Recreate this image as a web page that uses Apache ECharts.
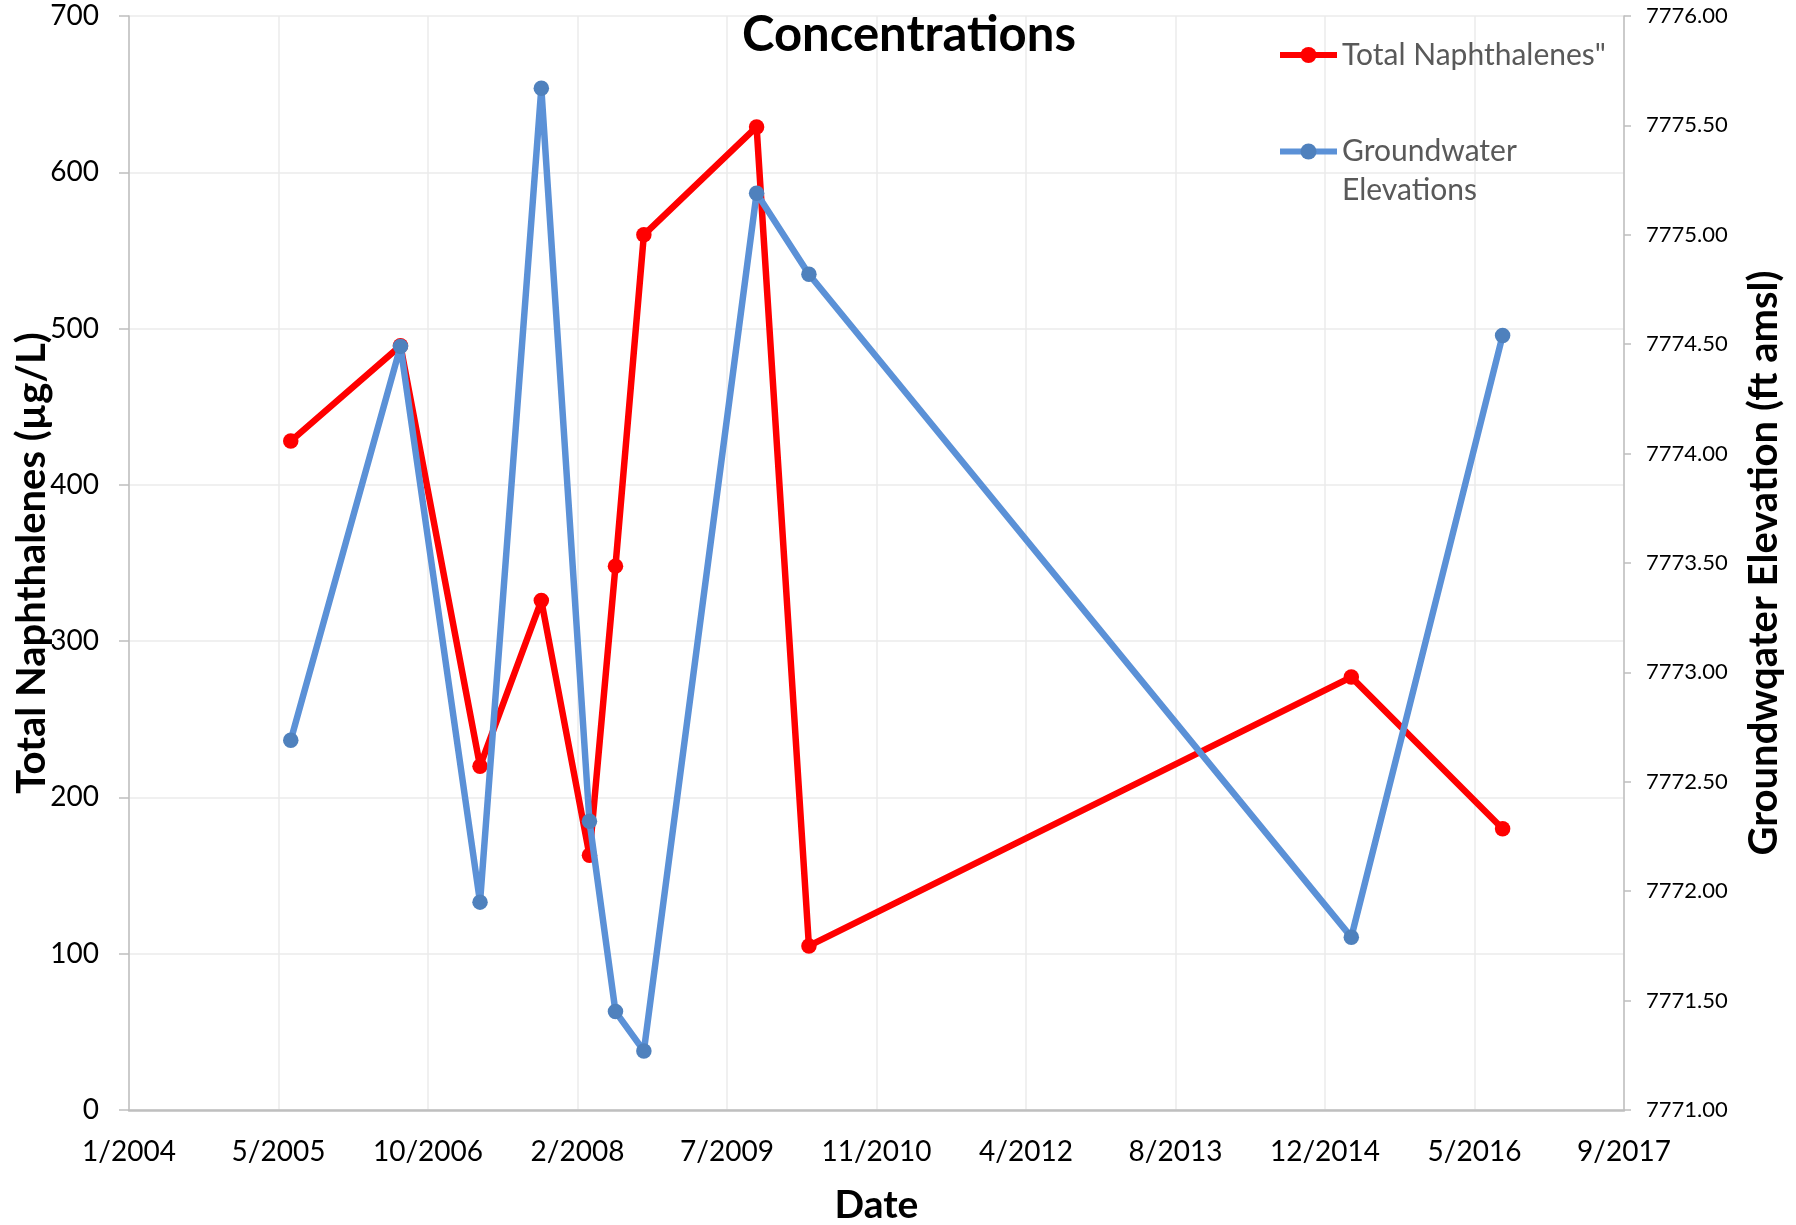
<!DOCTYPE html>
<html>
<head>
<meta charset="utf-8">
<script src="https://cdn.jsdelivr.net/npm/echarts@6/dist/echarts.min.js"></script>
<style>html,body{margin:0;padding:0;background:#fff;}#c{width:1796px;height:1225px;}</style>
</head>
<body>
<div id="c"></div>
<script>
// Sampling dates (shared by both series)
const sampleDates = ['2005-07-08','2006-07-10','2007-04-02','2007-10-24','2008-04-02','2008-06-28','2008-10-01','2009-10-13','2010-04-06','2015-03-25','2016-08-12'];
// Total Naphthalenes (µg/L)
const naphthalenes = [428, 489, 220, 326, 163, 348, 560, 629, 105, 277, 180];
// Groundwater elevations (ft amsl)
const elevations = [7772.69, 7774.49, 7771.95, 7775.67, 7772.32, 7771.45, 7771.27, 7775.19, 7774.82, 7771.79, 7774.54];
// Axis settings (Excel serial days for the date axis)
const xMin = 38000, xMax = 43000, xStep = 500;
const leftMin = 0, leftMax = 700, leftStep = 100;
const rightMin = 7771, rightMax = 7776, rightStep = 0.5;

const EPOCH = Date.UTC(1899, 11, 30);
const DAY = 86400000;
const toSerial = s => (Date.parse(s + 'T00:00:00Z') - EPOCH) / DAY;
const serialLabel = v => { const d = new Date(EPOCH + v * DAY); return (d.getUTCMonth() + 1) + '/' + d.getUTCFullYear(); };

const FONT = 'Lato';
const redData = sampleDates.map((d, i) => [toSerial(d), naphthalenes[i]]);
const blueData = sampleDates.map((d, i) => [toSerial(d), elevations[i]]);

const chart = echarts.init(document.getElementById('c'));
chart.setOption({
  animation: false,
  backgroundColor: '#fff',
  textStyle: { fontFamily: FONT },
  title: {
    text: 'Concentrations',
    left: 904, top: 6, textAlign: 'center',
    textStyle: { fontFamily: FONT, fontWeight: 'bold', fontSize: 49, color: '#000' }
  },
  legend: [
    {
      data: ['Total Naphthalenes"'],
      left: 1277, top: 35.5, padding: 0, itemGap: 0,
      itemWidth: 57, itemHeight: 20,
      lineStyle: { width: 6 },
      textStyle: { fontFamily: FONT, fontSize: 30, color: '#595959', lineHeight: 39 }
    },
    {
      data: ['Groundwater Elevations'],
      left: 1277, top: 93, padding: 0, itemGap: 0,
      itemWidth: 57, itemHeight: 20,
      lineStyle: { width: 6 },
      formatter: () => ' \nGroundwater\nElevations',
      textStyle: { fontFamily: FONT, fontSize: 30, color: '#595959', lineHeight: 39 }
    }
  ],
  grid: { left: 129, right: 172, top: 16, bottom: 115, containLabel: false, outerBoundsMode: 'none' },
  xAxis: {
    type: 'value', min: xMin, max: xMax, interval: xStep,
    name: 'Date', nameLocation: 'middle', nameGap: 76, nameMoveOverlap: false,
    nameTextStyle: { fontFamily: FONT, fontWeight: 'bold', fontSize: 39, color: '#000' },
    axisLine: { show: true, lineStyle: { color: '#BFBFBF', width: 2.5 } },
    axisTick: { show: false },
    axisLabel: { formatter: serialLabel, fontFamily: FONT, fontSize: 28, color: '#000', margin: 28 },
    splitLine: { show: true, lineStyle: { color: '#EBEBEB', width: 1.5 } }
  },
  yAxis: [
    {
      type: 'value', min: leftMin, max: leftMax, interval: leftStep, position: 'left',
      name: 'Total Naphthalenes (µg/L)', nameLocation: 'middle', nameGap: 77, nameRotate: 90, nameMoveOverlap: false,
      nameTextStyle: { fontFamily: FONT, fontWeight: 'bold', fontSize: 40, color: '#000' },
      axisLine: { show: true, lineStyle: { color: '#BFBFBF', width: 1.5 } },
      axisTick: { show: true, length: 10, lineStyle: { color: '#BFBFBF', width: 1.5 } },
      axisLabel: { fontFamily: FONT, fontSize: 28, color: '#000', margin: 30 },
      splitLine: { show: true, lineStyle: { color: '#EBEBEB', width: 1.5 } }
    },
    {
      type: 'value', min: rightMin, max: rightMax, interval: rightStep, position: 'right',
      name: 'Groundwqater Elevation (ft amsl)', nameLocation: 'middle', nameGap: 120, nameRotate: 90, nameMoveOverlap: false,
      nameTextStyle: { fontFamily: FONT, fontWeight: 'bold', fontSize: 40, color: '#000' },
      axisLine: { show: true, lineStyle: { color: '#BFBFBF', width: 1.5 } },
      axisTick: { show: true, length: 7, lineStyle: { color: '#BFBFBF', width: 1.5 } },
      axisLabel: { formatter: v => v.toFixed(2), fontFamily: FONT, fontSize: 22, color: '#000', margin: 22 },
      splitLine: { show: false }
    }
  ],
  series: [
    {
      name: 'Total Naphthalenes"', type: 'line', yAxisIndex: 0, data: redData,
      symbol: 'circle', symbolSize: 15.5, showAllSymbol: true,
      lineStyle: { color: '#FF0000', width: 6.5 },
      itemStyle: { color: '#FF0000' }, z: 2
    },
    {
      name: 'Groundwater Elevations', type: 'line', yAxisIndex: 1, data: blueData,
      symbol: 'circle', symbolSize: 15.5, showAllSymbol: true,
      lineStyle: { color: '#5B91D7', width: 6.5 },
      itemStyle: { color: '#4F81BD' }, z: 3
    }
  ]
});
</script>
</body>
</html>
